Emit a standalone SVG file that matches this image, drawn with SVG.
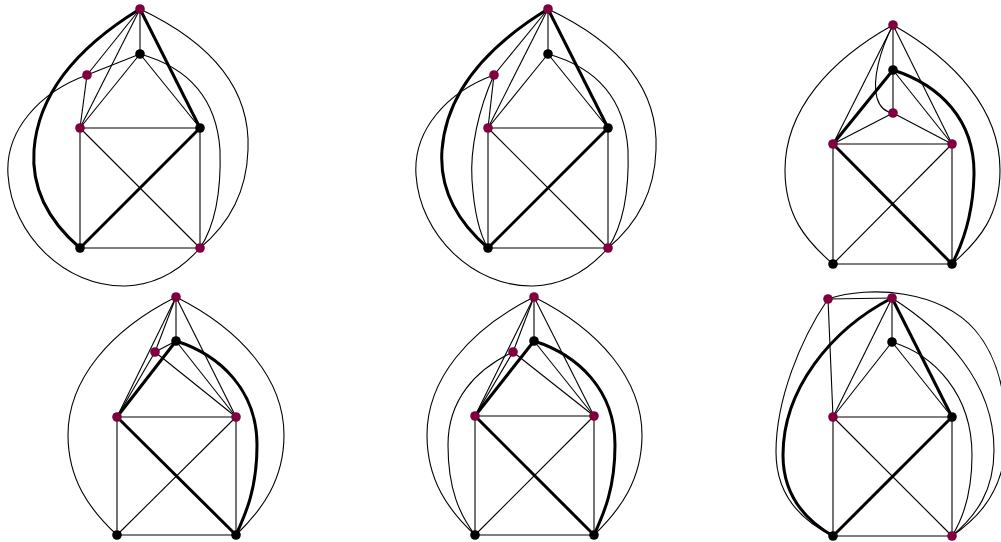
<svg xmlns="http://www.w3.org/2000/svg" width="1001" height="542" viewBox="0 0 1001 542">
<style>
.e{fill:none;stroke:#000;stroke-width:1.1}
.t{fill:none;stroke:#000;stroke-width:3}
.r{fill:#80003f}
.k{fill:#000}
</style>
<rect width="1001" height="542" fill="#fff"/>
<g id="connectors">
<!-- panel 1 -->
<g id="p1-edges">
<line class="e" x1="80" y1="128" x2="200" y2="128"/>
<line class="e" x1="80" y1="128" x2="80" y2="248"/>
<line class="e" x1="200" y1="128" x2="200" y2="248"/>
<line class="e" x1="80" y1="248" x2="200" y2="248"/>
<line class="e" x1="80" y1="128" x2="200" y2="248"/>
<line class="t" x1="80" y1="248" x2="200" y2="128"/>
<line class="e" x1="140" y1="54" x2="80" y2="128"/>
<line class="e" x1="140" y1="54" x2="200" y2="128"/>
<line class="e" x1="140" y1="9" x2="140" y2="54"/>
<line class="t" x1="140" y1="9" x2="200" y2="128"/>
<line class="e" x1="140" y1="9" x2="80" y2="128"/>
<line class="e" x1="140" y1="9" x2="87" y2="75"/>
<line class="e" x1="87" y1="75" x2="80" y2="128"/>
<line class="e" x1="87" y1="75" x2="140" y2="54"/>
<path class="t" d="M140,9 Q40,70 34,150 Q30,205 80,248"/>
<path class="e" d="M140,9 Q252,62 248,150 Q246,210 200,248"/>
<path class="e" d="M140,54 Q215,75 220,150 Q222,215 200,248"/>
<path class="e" d="M87,75 C40,92 5,130 8,175 C12,235 65,287 125,286 C160,285 185,265 200,248"/>
</g>
<!-- panel 2 -->
<g id="p2-edges">
<line class="e" x1="488" y1="128" x2="608" y2="128"/>
<line class="e" x1="488" y1="128" x2="488" y2="248"/>
<line class="e" x1="608" y1="128" x2="608" y2="248"/>
<line class="e" x1="488" y1="248" x2="608" y2="248"/>
<line class="e" x1="488" y1="128" x2="608" y2="248"/>
<line class="t" x1="488" y1="248" x2="608" y2="128"/>
<line class="e" x1="548" y1="54" x2="488" y2="128"/>
<line class="e" x1="548" y1="54" x2="608" y2="128"/>
<line class="e" x1="548" y1="9" x2="548" y2="54"/>
<line class="t" x1="548" y1="9" x2="608" y2="128"/>
<line class="e" x1="548" y1="9" x2="488" y2="128"/>
<line class="e" x1="548" y1="9" x2="494" y2="75"/>
<line class="e" x1="494" y1="75" x2="488" y2="128"/>
<path class="e" d="M494,75 C478,110 470,150 472,180 C474,210 480,235 488,248"/>
<path class="t" d="M548,9 Q448,70 442,150 Q438,205 488,248"/>
<path class="e" d="M548,9 Q660,62 656,150 Q654,210 608,248"/>
<path class="e" d="M548,54 Q623,75 628,150 Q630,215 608,248"/>
<path class="e" d="M494,75 C447,92 413,130 416,175 C420,235 473,287 533,286 C568,285 593,265 608,248"/>
</g>
<!-- panel 3 -->
<g id="p3-edges">
<line class="e" x1="833" y1="144" x2="952" y2="144"/>
<line class="e" x1="833" y1="144" x2="833" y2="264"/>
<line class="e" x1="952" y1="144" x2="952" y2="264"/>
<line class="e" x1="833" y1="264" x2="952" y2="264"/>
<line class="t" x1="833" y1="144" x2="952" y2="264"/>
<line class="e" x1="833" y1="264" x2="952" y2="144"/>
<line class="t" x1="893" y1="70" x2="833" y2="144"/>
<line class="e" x1="893" y1="70" x2="952" y2="144"/>
<line class="e" x1="893" y1="25" x2="893" y2="113"/>
<line class="e" x1="893" y1="113" x2="833" y2="144"/>
<line class="e" x1="893" y1="113" x2="952" y2="144"/>
<line class="e" x1="893" y1="25" x2="833" y2="144"/>
<line class="e" x1="893" y1="25" x2="952" y2="144"/>
<path class="e" d="M893,25 C880,50 872,80 877,98 C880,108 886,112 893,113"/>
<path class="e" d="M893,25 C830,60 785,110 785,170 C785,215 805,240 833,264"/>
<path class="e" d="M893,25 C955,60 1000,110 1000,170 C1000,215 980,240 952,264"/>
<path class="t" d="M893,70 C940,85 975,120 974,175 C973,215 962,245 952,264"/>
</g>
<!-- panel 4 -->
<g id="p4-edges">
<line class="e" x1="117" y1="417" x2="236" y2="417"/>
<line class="e" x1="117" y1="417" x2="117" y2="535"/>
<line class="e" x1="236" y1="417" x2="236" y2="535"/>
<line class="e" x1="117" y1="535" x2="236" y2="535"/>
<line class="t" x1="117" y1="417" x2="236" y2="535"/>
<line class="e" x1="117" y1="535" x2="236" y2="417"/>
<line class="t" x1="176" y1="341" x2="117" y2="417"/>
<line class="e" x1="176" y1="341" x2="236" y2="417"/>
<line class="e" x1="176" y1="297" x2="176" y2="341"/>
<line class="e" x1="176" y1="297" x2="117" y2="417"/>
<line class="e" x1="176" y1="297" x2="236" y2="417"/>
<line class="e" x1="176" y1="297" x2="155" y2="352"/>
<line class="e" x1="155" y1="352" x2="117" y2="417"/>
<line class="e" x1="155" y1="352" x2="176" y2="341"/>
<line class="e" x1="155" y1="352" x2="236" y2="417"/>
<path class="e" d="M176,297 C110,330 68,380 68,435 C68,480 90,510 117,535"/>
<path class="e" d="M176,297 C242,330 284,380 284,435 C284,480 262,510 236,535"/>
<path class="t" d="M176,341 C220,355 257,390 257,445 C257,490 245,515 236,535"/>
</g>
<!-- panel 5 -->
<g id="p5-edges">
<line class="e" x1="475" y1="416" x2="594" y2="416"/>
<line class="e" x1="475" y1="416" x2="475" y2="535"/>
<line class="e" x1="594" y1="416" x2="594" y2="535"/>
<line class="e" x1="475" y1="535" x2="594" y2="535"/>
<line class="t" x1="475" y1="416" x2="594" y2="535"/>
<line class="e" x1="475" y1="535" x2="594" y2="416"/>
<line class="t" x1="534" y1="341" x2="475" y2="416"/>
<line class="e" x1="534" y1="341" x2="594" y2="416"/>
<line class="e" x1="534" y1="297" x2="534" y2="341"/>
<line class="e" x1="534" y1="297" x2="475" y2="416"/>
<line class="e" x1="534" y1="297" x2="594" y2="416"/>
<line class="e" x1="534" y1="297" x2="513" y2="352"/>
<line class="e" x1="513" y1="352" x2="475" y2="416"/>
<line class="e" x1="513" y1="352" x2="594" y2="416"/>
<path class="e" d="M513,352 C475,370 448,400 448,445 C448,490 460,515 475,535"/>
<path class="e" d="M534,297 C468,330 427,380 427,435 C427,480 448,510 475,535"/>
<path class="e" d="M534,297 C600,330 642,380 642,435 C642,480 620,510 594,535"/>
<path class="t" d="M534,341 C578,355 615,390 615,445 C615,490 603,515 594,535"/>
</g>
<!-- panel 6 -->
<g id="p6-edges">
<line class="e" x1="833" y1="417" x2="952" y2="417"/>
<line class="e" x1="833" y1="417" x2="833" y2="536"/>
<line class="e" x1="952" y1="417" x2="952" y2="536"/>
<line class="e" x1="833" y1="536" x2="952" y2="536"/>
<line class="e" x1="833" y1="417" x2="952" y2="536"/>
<line class="t" x1="833" y1="536" x2="952" y2="417"/>
<line class="e" x1="892" y1="342" x2="833" y2="417"/>
<line class="e" x1="892" y1="342" x2="952" y2="417"/>
<line class="e" x1="892" y1="298" x2="892" y2="342"/>
<line class="t" x1="892" y1="298" x2="952" y2="417"/>
<line class="e" x1="892" y1="298" x2="833" y2="417"/>
<line class="e" x1="828" y1="299" x2="892" y2="298"/>
<line class="e" x1="828" y1="299" x2="833" y2="417"/>
<path class="e" d="M828,299 C800,340 776,400 776,452 C776,495 800,520 833,536"/>
<path class="t" d="M892,298 C830,330 783,390 783,455 C783,495 805,520 833,536"/>
<path class="e" d="M828,299 C870,285 940,290 975,330 C1005,365 1010,420 1003,465 C995,500 975,520 952,536"/>
<path class="e" d="M892,298 C942,330 994,380 994,450 C994,490 977,515 952,536"/>
<path class="e" d="M892,342 C935,355 972,395 972,455 C972,495 962,520 952,536"/>
</g>
</g>
<g id="n1"><circle class="r" cx="140" cy="9" r="4.8"/><circle class="k" cx="140" cy="54" r="4.8"/><circle class="r" cx="87" cy="75" r="4.8"/><circle class="r" cx="80" cy="128" r="4.8"/><circle class="k" cx="200" cy="128" r="4.8"/><circle class="k" cx="80" cy="248" r="4.8"/><circle class="r" cx="200" cy="248" r="4.8"/></g>
<g id="n2"><circle class="r" cx="548" cy="9" r="4.8"/><circle class="k" cx="548" cy="54" r="4.8"/><circle class="r" cx="494" cy="75" r="4.8"/><circle class="r" cx="488" cy="128" r="4.8"/><circle class="k" cx="608" cy="128" r="4.8"/><circle class="k" cx="488" cy="248" r="4.8"/><circle class="r" cx="608" cy="248" r="4.8"/></g>
<g id="n3"><circle class="r" cx="893" cy="25" r="4.8"/><circle class="k" cx="893" cy="70" r="4.8"/><circle class="r" cx="893" cy="113" r="4.8"/><circle class="r" cx="833" cy="144" r="4.8"/><circle class="r" cx="952" cy="144" r="4.8"/><circle class="k" cx="833" cy="264" r="4.8"/><circle class="k" cx="952" cy="264" r="4.8"/></g>
<g id="n4"><circle class="r" cx="176" cy="297" r="4.8"/><circle class="k" cx="176" cy="341" r="4.8"/><circle class="r" cx="155" cy="352" r="4.8"/><circle class="r" cx="117" cy="417" r="4.8"/><circle class="r" cx="236" cy="417" r="4.8"/><circle class="k" cx="117" cy="535" r="4.8"/><circle class="k" cx="236" cy="535" r="4.8"/></g>
<g id="n5"><circle class="r" cx="534" cy="297" r="4.8"/><circle class="k" cx="534" cy="341" r="4.8"/><circle class="r" cx="513" cy="352" r="4.8"/><circle class="r" cx="475" cy="416" r="4.8"/><circle class="r" cx="594" cy="416" r="4.8"/><circle class="k" cx="475" cy="535" r="4.8"/><circle class="k" cx="594" cy="535" r="4.8"/></g>
<g id="n6"><circle class="r" cx="828" cy="299" r="4.8"/><circle class="r" cx="892" cy="298" r="4.8"/><circle class="k" cx="892" cy="342" r="4.8"/><circle class="r" cx="833" cy="417" r="4.8"/><circle class="k" cx="952" cy="417" r="4.8"/><circle class="k" cx="833" cy="536" r="4.8"/><circle class="r" cx="952" cy="536" r="4.8"/></g>
</svg>
